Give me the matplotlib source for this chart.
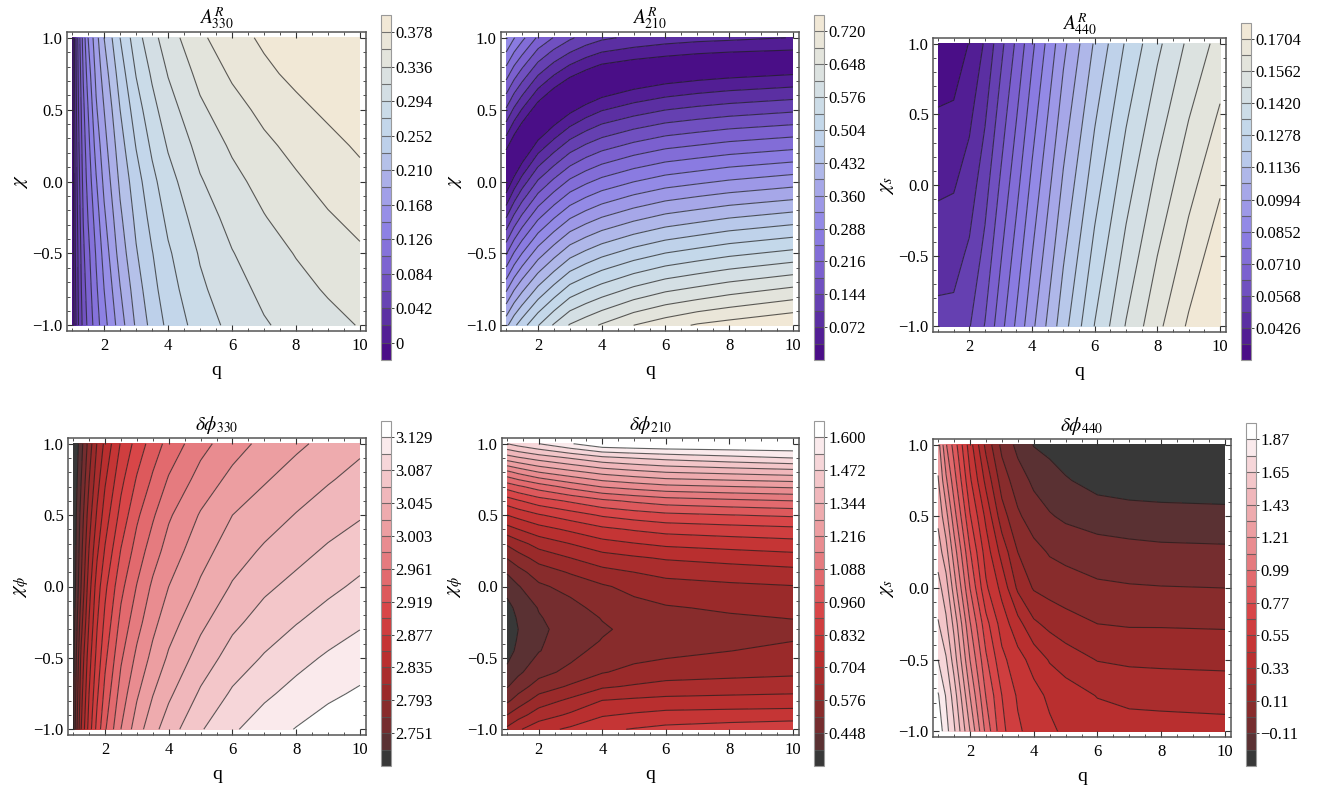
import numpy as np
import matplotlib
matplotlib.use("Agg")
import matplotlib.pyplot as plt
from matplotlib.colors import LinearSegmentedColormap

plt.rcParams['font.family'] = ['Liberation Serif', 'DejaVu Serif']
plt.rcParams['mathtext.fontset'] = 'stix'

W, H = 1322, 787

# A330
q_a330 = [1, 1.1, 1.2, 1.35, 1.5, 1.75, 2, 2.5, 3, 3.5, 4, 5, 6, 7, 8, 9, 10]
chi_a330 = [-1, -.75, -.5, -.25, 0, .25, .5, .75, 1]
z_a330 = [
    [-.02, .015, .042, .070, .089, .116, .139, .179, .213, .238, .257, .283, .300, .313, .322, .330, .337],
    [-.02, .018, .045, .075, .094, .122, .147, .188, .221, .245, .264, .290, .307, .320, .330, .338, .346],
    [-.02, .021, .047, .080, .099, .128, .155, .198, .229, .251, .270, .296, .314, .327, .337, .346, .354],
    [-.02, .023, .051, .085, .106, .136, .164, .206, .236, .259, .278, .304, .322, .335, .346, .355, .363],
    [-.02, .025, .055, .090, .113, .145, .173, .214, .243, .267, .286, .313, .330, .343, .354, .364, .372],
    [-.018, .027, .059, .095, .119, .155, .181, .222, .253, .277, .296, .322, .339, .3525, .363, .372, .381],
    [-.015, .030, .063, .100, .126, .165, .189, .231, .263, .287, .306, .332, .349, .3625, .373, .382, .390],
    [-.015, .032, .067, .107, .136, .173, .199, .241, .274, .297, .316, .342, .360, .3735, .383, .390, .396],
    [-.015, .034, .072, .114, .147, .181, .210, .252, .285, .308, .326, .353, .370, .3815, .389, .394, .398],
]
lev_a330 = np.linspace(-0.021, 0.399, 21)
ticks_a330 = [0, .042, .084, .126, .168, .210, .252, .294, .336, .378]
labels_a330 = ['0', '0.042', '0.084', '0.126', '0.168', '0.210', '0.252', '0.294', '0.336', '0.378']

# A210
q_a210 = [1, 1.25, 1.5, 2, 2.5, 3, 3.5, 4, 5, 6, 7, 8, 10]
chi_a210 = [1, .9, .8, .7, .6, .5, .4, .3, .2, .1, 0, -.1, -.2, -.4, -.6, -.8, -1]
z_a210 = [
    [.325, .290, .262, .210, .178, .150, .130, .115, .100, .090, .084, .080, .071],
    [.288, .252, .224, .171, .136, .109, .088, .072, .058, .048, .040, .036, .030],
    [.251, .214, .185, .132, .096, .067, .046, .029, .015, .006, .004, .004, .013],
    [.214, .177, .147, .093, .056, .026, .006, .004, .013, .028, .037, .044, .054],
    [.177, .139, .109, .054, .016, .004, .011, .030, .052, .067, .077, .085, .096],
    [.140, .102, .070, .015, .004, .026, .050, .069, .090, .107, .117, .125, .137],
    [.103, .064, .032, .004, .032, .065, .089, .108, .130, .147, .157, .166, .178],
    [.066, .027, .004, .031, .070, .105, .128, .146, .169, .187, .197, .207, .220],
    [.029, .004, .008, .070, .109, .144, .167, .185, .209, .227, .237, .247, .261],
    [.004, .009, .048, .109, .148, .183, .206, .224, .248, .266, .277, .288, .303],
    [.004, .050, .088, .148, .188, .223, .245, .263, .287, .306, .317, .328, .344],
    [.044, .091, .128, .187, .227, .262, .284, .302, .327, .346, .358, .369, .385],
    [.086, .132, .168, .226, .266, .301, .323, .341, .366, .386, .398, .410, .427],
    [.170, .214, .248, .304, .344, .380, .401, .419, .445, .465, .478, .491, .509],
    [.254, .296, .328, .382, .422, .458, .479, .497, .524, .545, .559, .572, .592],
    [.338, .378, .408, .460, .500, .537, .557, .574, .603, .625, .639, .653, .675],
    [.422, .460, .488, .538, .580, .615, .634, .652, .684, .705, .724, .735, .755],
]
lev_a210 = np.linspace(0, 0.756, 22)
ticks_a210 = [.072, .144, .216, .288, .360, .432, .504, .576, .648, .720]
labels_a210 = ['0.072', '0.144', '0.216', '0.288', '0.360', '0.432', '0.504', '0.576', '0.648', '0.720']

# A440
q_a440 = [1, 1.5, 2, 2.5, 3, 3.5, 4, 5, 6, 7, 8, 9, 10]
chi_a440 = [-1, -0.5, 0, 0.5, 1]
z_a440 = [
    [.0520, .0520, .0563, .0643, .0755, .0865, .0976, .1179, .1352, .1496, .1615, .1715, .1770],
    [.0467, .0472, .0510, .0590, .0703, .0812, .0923, .1128, .1300, .1443, .1562, .1662, .1747],
    [.0414, .0420, .0460, .0540, .0650, .0758, .0870, .1077, .1248, .1391, .1510, .1610, .1694],
    [.0360, .0365, .0410, .0488, .0598, .0705, .0817, .1026, .1197, .1339, .1457, .1558, .1641],
    [.0310, .0315, .0358, .0435, .0546, .0652, .0764, .0975, .1145, .1287, .1404, .1506, .1588],
]
lev_a440 = np.linspace(0.0284, 0.1775, 22)
ticks_a440 = [.0426, .0568, .0710, .0852, .0994, .1136, .1278, .1420, .1562, .1704]
labels_a440 = ['0.0426', '0.0568', '0.0710', '0.0852', '0.0994', '0.1136', '0.1278', '0.1420', '0.1562', '0.1704']

# dphi330
q_p330 = [1, 1.1, 1.25, 1.5, 1.75, 2, 2.5, 3, 3.5, 4, 5, 6, 7, 8, 9, 10]
chi_p330 = [-1, -.75, -.5, -.25, 0, .25, .5, .75, 1]
z_p330 = [
    [2.725, 2.764, 2.813, 2.865, 2.905, 2.937, 2.982, 3.014, 3.038, 3.056, 3.085, 3.105, 3.119, 3.130, 3.139, 3.146],
    [2.722, 2.757, 2.805, 2.856, 2.894, 2.925, 2.970, 3.000, 3.023, 3.041, 3.069, 3.090, 3.104, 3.115, 3.125, 3.132],
    [2.720, 2.751, 2.797, 2.847, 2.884, 2.914, 2.958, 2.987, 3.009, 3.027, 3.054, 3.075, 3.089, 3.101, 3.111, 3.119],
    [2.717, 2.743, 2.784, 2.836, 2.875, 2.903, 2.946, 2.974, 2.997, 3.015, 3.040, 3.061, 3.075, 3.086, 3.096, 3.105],
    [2.715, 2.735, 2.772, 2.826, 2.866, 2.893, 2.934, 2.962, 2.986, 3.003, 3.027, 3.047, 3.062, 3.072, 3.082, 3.091],
    [2.713, 2.732, 2.765, 2.815, 2.852, 2.879, 2.920, 2.949, 2.972, 2.991, 3.016, 3.035, 3.048, 3.059, 3.069, 3.078],
    [2.712, 2.730, 2.758, 2.804, 2.838, 2.866, 2.905, 2.936, 2.958, 2.979, 3.005, 3.024, 3.035, 3.046, 3.056, 3.064],
    [2.712, 2.725, 2.750, 2.792, 2.826, 2.853, 2.892, 2.921, 2.943, 2.963, 2.990, 3.009, 3.022, 3.033, 3.043, 3.052],
    [2.712, 2.720, 2.743, 2.781, 2.815, 2.840, 2.879, 2.906, 2.929, 2.947, 2.975, 2.994, 3.009, 3.020, 3.030, 3.040],
]
lev_p330 = np.linspace(2.709, 3.15, 22)
ticks_p330 = [2.751, 2.793, 2.835, 2.877, 2.919, 2.961, 3.003, 3.045, 3.087, 3.129]
labels_p330 = ['2.751', '2.793', '2.835', '2.877', '2.919', '2.961', '3.003', '3.045', '3.087', '3.129']

# dphi210
q_p210 = [1, 1.35, 2, 3, 4, 5, 6, 8, 10]
chi_p210 = [1, .9, .8, .7, .6, .5, .4, .3, .2, .1, 0, -.15, -.22, -.3, -.38, -.45, -.6, -.7, -.8, -.9, -1]
z_p210 = [
    [1.472, 1.498, 1.536, 1.595, 1.650, 1.658, 1.664, 1.664, 1.664],
    [1.312, 1.335, 1.370, 1.412, 1.454, 1.474, 1.490, 1.515, 1.536],
    [1.135, 1.167, 1.215, 1.260, 1.300, 1.324, 1.344, 1.360, 1.376],
    [.986, 1.013, 1.055, 1.110, 1.157, 1.180, 1.200, 1.215, 1.228],
    [.864, .890, .930, .970, 1.010, 1.035, 1.056, 1.073, 1.088],
    [.768, .790, .826, .865, .904, .926, .944, .958, .970],
    [.677, .703, .742, .780, .817, .838, .855, .868, .880],
    [.585, .617, .665, .705, .745, .765, .782, .796, .808],
    [.515, .549, .600, .640, .677, .695, .711, .727, .742],
    [.454, .490, .543, .582, .620, .640, .657, .671, .684],
    [.405, .443, .500, .535, .568, .595, .617, .628, .637],
    [.366, .400, .452, .490, .535, .555, .570, .585, .597],
    [.350, .392, .443, .482, .515, .540, .555, .568, .578],
    [.340, .384, .435, .475, .505, .527, .540, .552, .560],
    [.350, .391, .440, .481, .515, .537, .548, .563, .575],
    [.360, .398, .445, .488, .535, .548, .556, .575, .592],
    [.398, .435, .490, .530, .572, .594, .611, .620, .628],
    [.443, .482, .540, .585, .631, .647, .660, .667, .673],
    [.500, .540, .608, .655, .706, .716, .723, .728, .733],
    [.576, .615, .672, .715, .762, .777, .790, .795, .798],
    [.655, .695, .745, .780, .820, .836, .850, .865, .880],
]
lev_p210 = np.linspace(0.32, 1.664, 22)
ticks_p210 = [.448, .576, .704, .832, .960, 1.088, 1.216, 1.344, 1.472, 1.600]
labels_p210 = ['0.448', '0.576', '0.704', '0.832', '0.960', '1.088', '1.216', '1.344', '1.472', '1.600']

# dphi440
q_p440 = [1, 1.25, 1.5, 2, 2.5, 3, 3.5, 4, 4.5, 5, 6, 7, 8, 10]
chi_p440 = [1, .75, .5, .25, 0, -.25, -.5, -.75, -1]
z_p440 = [
    [1.26, 1.00, .835, .49, .19, -.03, -.14, -.225, -.25, -.28, -.30, -.315, -.32, -.325],
    [1.33, 1.12, .93, .57, .30, .06, -.06, -.13, -.175, -.21, -.26, -.28, -.29, -.30],
    [1.40, 1.25, 1.04, .67, .415, .16, .02, -.06, -.10, -.13, -.16, -.17, -.175, -.18],
    [1.49, 1.36, 1.16, .78, .50, .29, .11, .04, -.01, -.03, -.06, -.075, -.085, -.09],
    [1.58, 1.48, 1.27, .88, .57, .406, .20, .10, .07, .05, .02, .01, .005, 0],
    [1.66, 1.56, 1.40, 1.00, .70, .50, .37, .24, .19, .155, .11, .10, .10, .095],
    [1.76, 1.66, 1.49, 1.10, .79, .58, .48, .40, .32, .275, .215, .20, .195, .19],
    [1.88, 1.75, 1.60, 1.21, .875, .66, .535, .475, .42, .385, .325, .30, .295, .285],
    [1.95, 1.80, 1.67, 1.32, .96, .69, .57, .50, .46, .42, .39, .38, .375, .37],
]
lev_p440 = np.linspace(-0.33, 1.98, 22)
ticks_p440 = [-.11, .11, .33, .55, .77, .99, 1.21, 1.43, 1.65, 1.87]
labels_p440 = ['\u22120.11', '0.11', '0.33', '0.55', '0.77', '0.99', '1.21', '1.43', '1.65', '1.87']

purples = LinearSegmentedColormap.from_list('purples', [
    (0, '#4a0e87'), (.12, '#5f37a8'), (.25, '#7b60cf'), (.38, '#8f84e6'), (.5, '#a6a6e8'),
    (.62, '#bccfea'), (.7, '#c4d8ea'), (.8, '#d4dfe4'), (.9, '#e3e4dc'), (1, '#f1e8d6')])
reds = LinearSegmentedColormap.from_list('reds', [
    (0, '#383838'), (.07, '#6b2e30'), (.2, '#9a2a2a'), (.32, '#c03030'), (.45, '#d84648'),
    (.55, '#e26a6e'), (.7, '#ec9da0'), (.82, '#f1bcc0'), (.92, '#f7dcde'), (1, '#ffffff')])

fig = plt.figure(figsize=(W / 100, H / 100), dpi=100)


def box(l, r, t, b):
    # pixel box to figure fractions
    return [l / W, 1 - b / H, (r - l) / W, (b - t) / H]


def panel(frame, cbox, q, chi, z, levels, cmap, ticks, labels, title, ylab):
    ax = fig.add_axes(box(*frame))
    band_colors = [cmap(x) for x in np.linspace(0, 1, len(levels) - 1)]
    cf = ax.contourf(q, chi, z, levels=levels, colors=band_colors)
    ax.contour(q, chi, z, levels=levels, colors='#1c1c1c', linewidths=0.8, alpha=0.7,
               linestyles='solid')
    ax.set_xlim(0.84, 10.19)
    ax.set_ylim(-1.04, 1.04)
    ax.set_xticks([2, 4, 6, 8, 10])
    ax.set_xticks(np.arange(1, 10.01, 0.5), minor=True)
    ax.set_yticks([-1, -0.5, 0, 0.5, 1])
    ax.set_yticklabels(['\u22121.0', '\u22120.5', '0.0', '0.5', '1.0'])
    ax.set_yticks(np.arange(-1, 1.01, 0.1), minor=True)
    ax.tick_params(which='major', direction='in', top=True, right=True, length=4,
                   width=0.8, color='#333333', labelsize=12, pad=3)
    ax.tick_params(axis='x', which='major', pad=5)
    ax.tick_params(which='minor', direction='in', top=True, right=True, length=2,
                   width=0.6, color='#333333')
    for s in ax.spines.values():
        s.set_color('#555555')
        s.set_linewidth(1.1)
    ax.set_xlabel('q', fontsize=14, labelpad=6)
    ax.set_ylabel(ylab, fontsize=15, labelpad=2)
    ax.set_title(title, fontsize=14, pad=6)

    cax = fig.add_axes(box(*cbox))
    cb = fig.colorbar(cf, cax=cax, ticks=ticks, drawedges=True)
    cb.ax.set_yticklabels(labels)
    cb.ax.tick_params(length=2.5, width=0.7, color='#444444', labelsize=12, pad=0.5)
    cb.ax.minorticks_off()
    cb.dividers.set_color('#555555')
    cb.dividers.set_linewidth(0.8)
    cb.dividers.set_alpha(0.8)
    cb.outline.set_edgecolor('#999999')
    cb.outline.set_linewidth(0.8)


panel((67, 366, 32, 331), (381, 391, 15, 360), q_a330, chi_a330, z_a330, lev_a330, purples,
      ticks_a330, labels_a330, r'$A^{R}_{330}$', r'$\chi$')
panel((501, 799, 32, 331), (814, 824, 15, 360), q_a210, chi_a210, z_a210, lev_a210, purples,
      ticks_a210, labels_a210, r'$A^{R}_{210}$', r'$\chi$')
panel((933, 1226, 38, 332), (1241, 1251, 23, 360), q_a440, chi_a440, z_a440, lev_a440, purples,
      ticks_a440, labels_a440, r'$A^{R}_{440}$', r'$\chi_{s}$')
panel((68, 366, 438, 735), (381, 391, 421, 766), q_p330, chi_p330, z_p330, lev_p330, reds,
      ticks_p330, labels_p330, r'$\delta\phi_{330}$', r'$\chi_{\phi}$')
panel((502, 799, 438, 735), (814, 824, 421, 766), q_p210, chi_p210, z_p210, lev_p210, reds,
      ticks_p210, labels_p210, r'$\delta\phi_{210}$', r'$\chi_{\phi}$')
panel((933, 1231, 439, 737), (1246, 1256, 423, 766), q_p440, chi_p440, z_p440, lev_p440, reds,
      ticks_p440, labels_p440, r'$\delta\phi_{440}$', r'$\chi_{s}$')

fig.savefig('out.png', dpi=100)
